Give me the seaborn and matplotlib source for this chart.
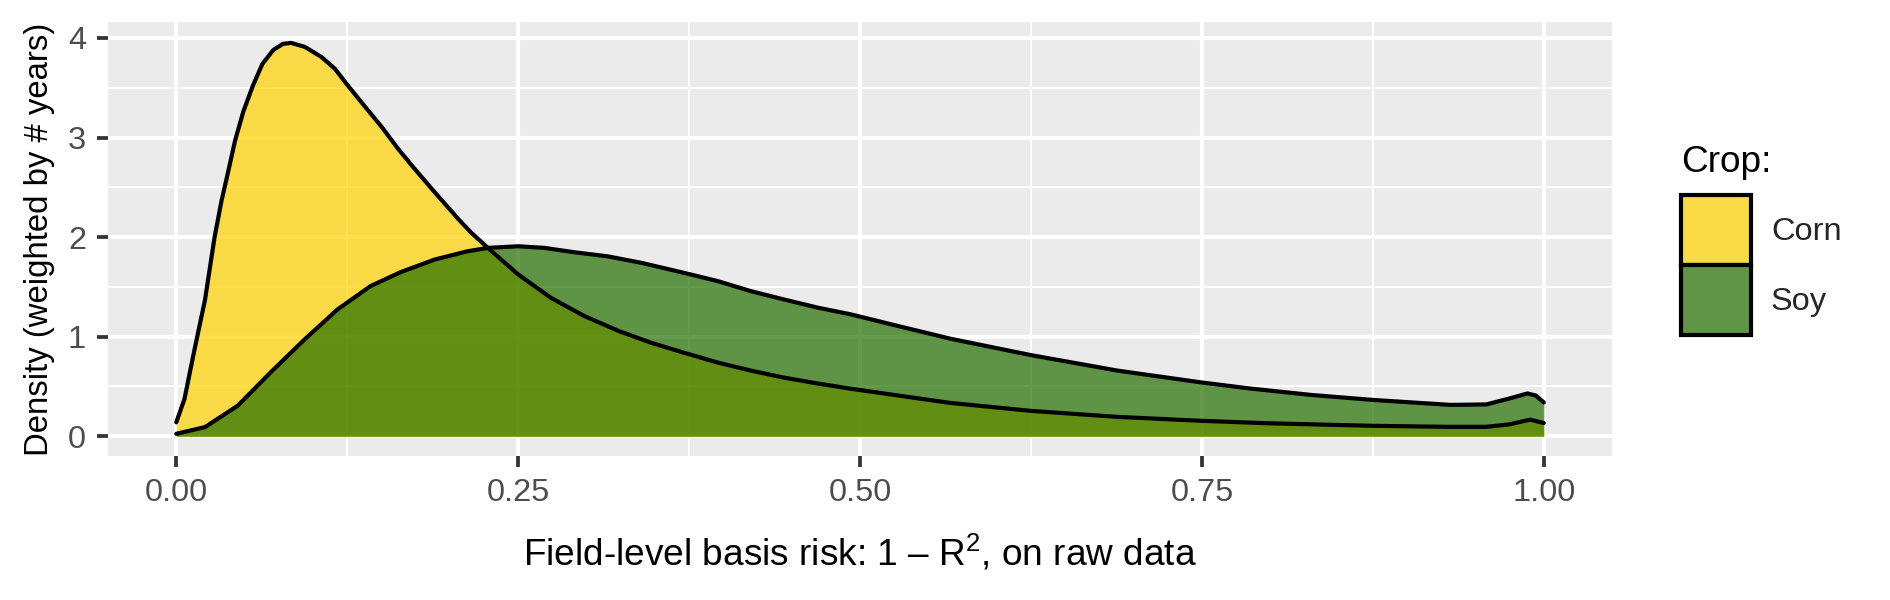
"""Density of field-level basis risk (1 - R^2) by crop, ggplot-like look."""

import matplotlib

matplotlib.use("Agg")
import matplotlib.pyplot as plt
import pandas as pd
import seaborn as sns
from matplotlib.patches import Patch


CROPS = ["Corn", "Soy"]
FILL_COLORS = {"Corn": "#FFD400", "Soy": "#246E00"}
KEY_COLORS = {"Corn": "#F9DB47", "Soy": "#609447"}

# density curves
CORN_X = [0.000, 0.006, 0.013, 0.021, 0.028, 0.033, 0.037, 0.043, 0.049, 0.056,
          0.063, 0.071, 0.078, 0.084, 0.094, 0.106, 0.116, 0.125, 0.138, 0.150,
          0.162, 0.174, 0.189, 0.207, 0.216, 0.228, 0.250, 0.274, 0.298, 0.323,
          0.347, 0.371, 0.396, 0.420, 0.444, 0.469, 0.493, 0.530, 0.566, 0.625,
          0.688, 0.750, 0.800, 0.875, 0.930, 0.958, 0.975, 0.990, 1.000]
CORN_DENSITY = [0.14, 0.375, 0.85, 1.37, 2.00, 2.36, 2.60, 2.97, 3.26, 3.52,
                3.74, 3.88, 3.94, 3.95, 3.91, 3.81, 3.69, 3.53, 3.31, 3.11,
                2.89, 2.69, 2.45, 2.17, 2.04, 1.89, 1.625, 1.39, 1.21, 1.06,
                0.94, 0.84, 0.74, 0.66, 0.59, 0.53, 0.478, 0.405, 0.335, 0.255,
                0.195, 0.155, 0.13, 0.105, 0.095, 0.095, 0.12, 0.167, 0.133]

SOY_X = [0.000, 0.021, 0.045, 0.069, 0.094, 0.118, 0.142, 0.164, 0.189, 0.213,
         0.228, 0.250, 0.269, 0.291, 0.315, 0.340, 0.371, 0.396, 0.420, 0.444,
         0.469, 0.493, 0.530, 0.566, 0.625, 0.688, 0.750, 0.785, 0.830, 0.875,
         0.932, 0.958, 0.975, 0.988, 0.994, 1.000]
SOY_DENSITY = [0.025, 0.092, 0.308, 0.642, 0.975, 1.275, 1.508, 1.648, 1.775, 1.858,
               1.892, 1.908, 1.892, 1.848, 1.808, 1.742, 1.642, 1.558, 1.458, 1.375,
               1.292, 1.225, 1.10, 0.98, 0.815, 0.66, 0.54, 0.48, 0.415, 0.365,
               0.315, 0.32, 0.38, 0.43, 0.41, 0.34]

X_TICKS = [0.0, 0.25, 0.5, 0.75, 1.0]
X_TICK_LABELS = ["0.00", "0.25", "0.50", "0.75", "1.00"]
X_MINOR = [0.125, 0.375, 0.625, 0.875]
Y_TICKS = [0, 1, 2, 3, 4]
Y_MINOR = [0.5, 1.5, 2.5, 3.5]


def build_frame() -> pd.DataFrame:
    corn = pd.DataFrame({"x": CORN_X, "density": CORN_DENSITY, "crop": "Corn"})
    soy = pd.DataFrame({"x": SOY_X, "density": SOY_DENSITY, "crop": "Soy"})
    return pd.concat([corn, soy], ignore_index=True)


def main() -> None:
    sns.set_style("darkgrid", {
        "axes.facecolor": "#EBEBEB",
        "grid.color": "white",
        "axes.edgecolor": "white",
    })
    plt.rcParams["font.family"] = ["Liberation Sans", "DejaVu Sans"]
    plt.rcParams["mathtext.fontset"] = "custom"
    plt.rcParams["mathtext.rm"] = "Liberation Sans"
    plt.rcParams["mathtext.it"] = "Liberation Sans:italic"

    data = build_frame()

    fig = plt.figure(figsize=(6.3, 2.0), dpi=300)
    fig.subplots_adjust(left=0.0571, right=0.853, top=0.963, bottom=0.24)
    ax = fig.add_subplot(111)

    for crop in CROPS:
        sub = data[data["crop"] == crop]
        ax.fill_between(sub["x"], sub["density"], color=FILL_COLORS[crop],
                        alpha=0.7, linewidth=0, zorder=2)
        sns.lineplot(data=sub, x="x", y="density", color="black", linewidth=1.0,
                     sort=False, estimator=None, ax=ax, zorder=3)

    ax.set_xlim(-0.05, 1.05)
    ax.set_ylim(-0.198, 4.158)
    ax.set_xticks(X_TICKS)
    ax.set_xticklabels(X_TICK_LABELS)
    ax.set_xticks(X_MINOR, minor=True)
    ax.set_yticks(Y_TICKS)
    ax.set_yticks(Y_MINOR, minor=True)
    ax.grid(which="major", color="white", linewidth=1.0)
    ax.grid(which="minor", color="white", linewidth=0.5)
    ax.set_axisbelow(True)
    for spine in ax.spines.values():
        spine.set_visible(False)

    ax.tick_params(which="major", length=2.75, width=0.9, color="#333333",
                   labelsize=7.8, labelcolor="#4D4D4D", pad=2.5,
                   bottom=True, left=True)
    ax.tick_params(which="minor", length=0)

    ax.set_xlabel("Field-level basis risk: 1 \u2013 R$^{2}$, on raw data",
                  fontsize=8.9, color="black", labelpad=6)
    ax.set_ylabel("Density (weighted by # years)", fontsize=7.9, color="black",
                  labelpad=3)

    # legend: title as its own text so the gap above the keys matches
    fig.text(1681 / 1890, 1 - 172 / 600, "Crop:", fontsize=8.9, color="black",
             ha="left", va="baseline")
    handles = [Patch(facecolor=KEY_COLORS[c], edgecolor="black", linewidth=1.0,
                     label=c) for c in CROPS]
    ax.legend(handles=handles, loc="upper left",
              bbox_to_anchor=(1681 / 1890, 1 - 195 / 600),
              bbox_transform=fig.transFigure, frameon=False,
              fontsize=7.8, borderpad=0, borderaxespad=0,
              handlelength=2.15, handleheight=2.94,
              handletextpad=0.62, labelspacing=0.0)

    fig.savefig("out.png", dpi=300)
    plt.close(fig)


if __name__ == "__main__":
    main()
